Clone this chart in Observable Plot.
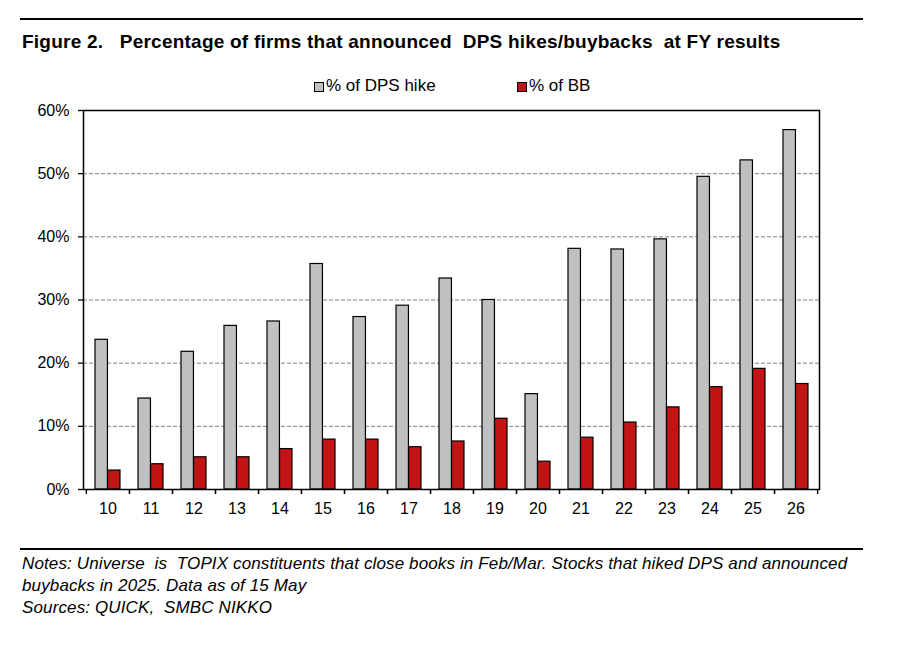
<!DOCTYPE html>
<html>
<head>
<meta charset="utf-8">
<script src="https://cdn.jsdelivr.net/npm/d3@7"></script>
<script src="https://cdn.jsdelivr.net/npm/@observablehq/plot@0.6"></script>
<style>
  html, body { margin: 0; padding: 0; background: #fff; }
  body { width: 903px; height: 667px; position: relative; overflow: hidden; font-family: "Liberation Sans", Arial, sans-serif; color: #000; }
  .rule { position: absolute; left: 20px; width: 843px; height: 0; border-top: 2px solid #000; }
  #title { position: absolute; left: 22px; top: 32px; font-size: 19px; line-height: 19px; font-weight: bold; white-space: pre; letter-spacing: 0.23px; }
  .legtxt { position: absolute; top: 77px; font-size: 17px; line-height: 17px; white-space: pre; }
  .sw { position: absolute; top: 82px; width: 8px; height: 8px; border: 1px solid #000; }
  #chart { position: absolute; left: 0; top: 95px; }
  #notes { position: absolute; left: 22px; top: 553px; font-size: 17px; font-style: italic; line-height: 21.9px; white-space: pre; letter-spacing: 0.13px; }
</style>
</head>
<body>
<div class="rule" style="top:18px"></div>
<div id="title"></div>
<div id="legend"></div>
<div id="chart"></div>
<div class="rule" style="top:548px"></div>
<div id="notes"></div>
<script>
const titleText = "Figure 2.   Percentage of firms that announced  DPS hikes/buybacks  at FY results";
const years = ["10","11","12","13","14","15","16","17","18","19","20","21","22","23","24","25","26"];
const dpsHike = [23.7, 14.4, 21.8, 25.9, 26.6, 35.7, 27.3, 29.1, 33.4, 30.0, 15.1, 38.1, 38.0, 39.6, 49.5, 52.1, 56.9];
const buyback = [3.0, 4.0, 5.1, 5.1, 6.4, 7.9, 7.9, 6.7, 7.6, 11.2, 4.4, 8.2, 10.6, 13.0, 16.2, 19.1, 16.7];
const seriesNames = ["% of DPS hike", "% of BB"];
const seriesColors = ["#C0C0C0", "#C21414"];
const yTicks = [0, 10, 20, 30, 40, 50, 60];
const gridTicks = [10, 20, 30, 40, 50];
const notesLines = [
  "Notes: Universe  is  TOPIX constituents that close books in Feb/Mar. Stocks that hiked DPS and announced",
  "buybacks in 2025. Data as of 15 May",
  "Sources: QUICK,  SMBC NIKKO"
];

document.getElementById("title").textContent = titleText;
document.getElementById("notes").textContent = notesLines.join("\n");

const legend = document.getElementById("legend");
const swLefts = [314, 517];
seriesNames.forEach((n, i) => {
  const s = document.createElement("div");
  s.className = "sw";
  s.style.left = swLefts[i] + "px";
  s.style.background = seriesColors[i];
  legend.appendChild(s);
  const t = document.createElement("div");
  t.className = "legtxt";
  t.style.left = (swLefts[i] + 12) + "px";
  t.textContent = n;
  legend.appendChild(t);
});

const rows = years.map((y, i) => ({year: y, dps: dpsHike[i], bb: buyback[i]}));

const W = 903, H = 425;
const mL = 83, mR = 84, mT = 15, mB = 31;
const step = (W - mL - mR) / years.length;
const pInner = 0.42;
const half = step * (1 - pInner) / 2;

const chart = Plot.plot({
  width: W,
  height: H,
  marginLeft: mL,
  marginRight: mR,
  marginTop: mT,
  marginBottom: mB,
  style: {fontFamily: "Liberation Sans, Arial, sans-serif", fontSize: "16px", color: "#000", background: "#fff"},
  x: {domain: years, paddingInner: pInner, paddingOuter: pInner / 2, label: null},
  y: {domain: [0, 60], label: null},
  marks: [
    Plot.ruleY(gridTicks, {stroke: "#808080", strokeWidth: 1, strokeDasharray: "4,2"}),
    Plot.barY(rows, {x: "year", y: "dps", fill: seriesColors[0], stroke: "#000", strokeWidth: 1.2, insetRight: half}),
    Plot.barY(rows, {x: "year", y: "bb", fill: seriesColors[1], stroke: "#000", strokeWidth: 1.2, insetLeft: half}),
    Plot.axisY({ticks: yTicks, tickSize: 5, tickPadding: 9, tickFormat: d => d + "%", fontSize: 16, strokeWidth: 1.3}),
    Plot.axisX({tickSize: 0, tickPadding: 13, fontSize: 16}),
    Plot.axisX({tickSize: 5, tickFormat: null, dx: step / 2, strokeWidth: 1.3}),
    Plot.axisX({tickSize: 5, tickFormat: null, dx: -step / 2, strokeWidth: 1.3}),
    Plot.frame({stroke: "#000", strokeWidth: 1.5})
  ]
});
document.getElementById("chart").appendChild(chart);
</script>
</body>
</html>
